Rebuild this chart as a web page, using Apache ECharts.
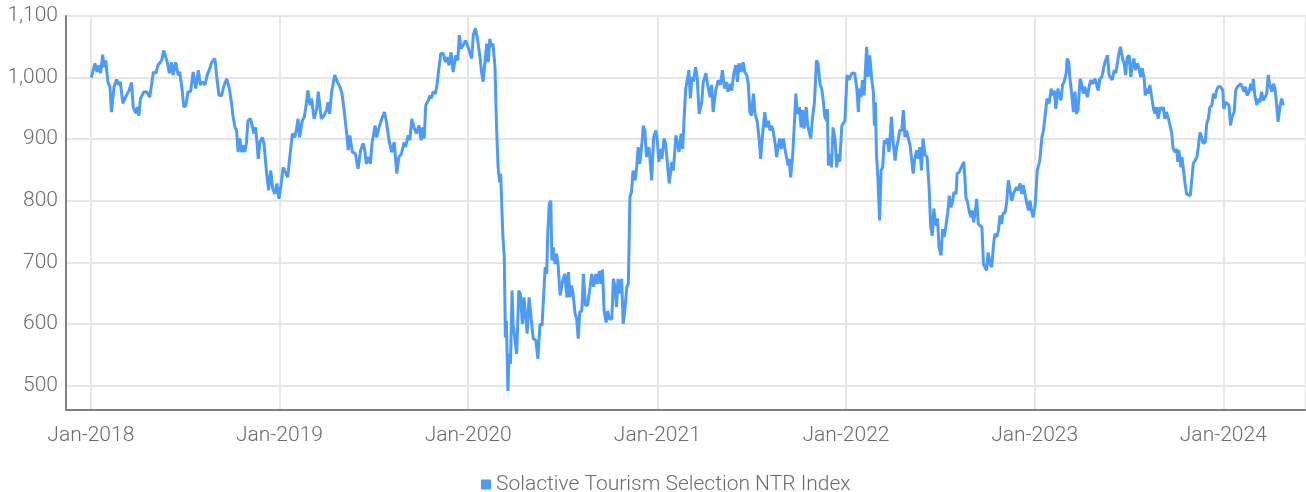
<!DOCTYPE html>
<html>
<head>
<meta charset="utf-8">
<script src="https://cdn.jsdelivr.net/npm/echarts@6/dist/echarts.min.js"></script>
<style>
  html, body { margin: 0; padding: 0; background: #ffffff; }
  #chart { width: 1306px; height: 492px; }
</style>
</head>
<body>
<div id="chart"></div>
<script>
// Index level history, Jan 2018 – Apr 2024
const seriesName = 'Solactive Tourism Selection NTR Index';
const startYear = 2018;
const monthNames = ['Jan','Feb','Mar','Apr','May','Jun','Jul','Aug','Sep','Oct','Nov','Dec'];

// Days elapsed since 1 Jan 2018 for each observation
const days = [
  1,8,12,16,19,23,26,29,33,37,
  40,45,50,54,57,62,69,74,79,82,
  87,90,93,96,103,108,114,121,126,130,
  137,141,145,148,152,156,159,164,169,172,
  176,180,184,188,193,198,203,208,212,216,
  221,225,229,234,240,244,248,253,257,263,
  268,272,275,279,282,285,288,292,295,298,
  301,304,309,313,315,319,324,327,332,335,
  340,344,348,352,356,360,364,368,372,375,
  381,385,390,395,398,401,404,409,413,416,
  420,424,427,432,437,440,443,446,451,456,
  459,462,466,472,477,482,486,490,495,498,
  501,506,512,517,522,527,530,533,537,541,
  544,550,553,557,563,568,572,577,582,587,
  592,596,601,606,609,614,617,621,626,630,
  635,639,642,645,648,653,656,659,662,667,
  670,673,677,682,686,689,693,697,701,706,
  710,713,716,720,725,729,733,737,740,744,
  748,753,756,759,762,766,769,772,775,778,
  782,785,788,791,793,797,800,802,804,807,
  809,812,815,817,820,824,828,831,835,838,
  842,844,848,853,856,861,865,869,873,877,
  879,882,884,887,890,892,895,898,901,904,
  908,913,917,921,924,927,930,933,937,940,
  943,946,950,953,957,961,966,969,973,977,
  980,984,987,990,993,997,1000,1003,1008,1011,
  1014,1017,1020,1024,1027,1030,1033,1037,1040,1043,
  1046,1049,1053,1056,1059,1062,1066,1069,1072,1075,
  1080,
  1085,1089,1093,1096,1099,1102,1105,1109,1112,1115,
  1119,1124,1127,1132,1134,1138,1142,1145,1148,1151,
  1154,1157,1160,1163,1166,1170,1173,1177,1182,1185,
  1190,1193,1198,1201,1204,1209,1214,1218,1222,1226,
  1230,1233,1236,1240,1244,1248,1251,1254,1258,1262,
  1265,1269,1272,1275,1278,1282,1285,1289,1293,1296,
  1300,1304,1307,1311,1314,1317,1320,1324,1327,1330,
  1333,1336,1340,1343,1346,1349,1351,1354,1358,1361,
  1364,1367,1371,1374,1377,1380,1384,1387,1390,1393,
  1396,1400,1404,1407,1411,1414,1417,1420,1424,1425,
  1427,1430,1433,1436,1440,1443,1446,1449,1453,1459,
  1463,1467,1472,1475,1478,1482,1485,
  1487,1490,1493,1496,1501,1504,1507,1511,1514,1516,
  1518,1520,1523,1526,1529,1532,1535,1538,1541,1544,
  1546,1549,1552,1556,1559,1562,1565,1569,1572,1575,
  1578,1581,1585,1588,1591,1594,1598,1601,1604,1607,
  1610,1614,1618,1622,1625,1628,1631,1634,1638,1641,
  1645,1648,1651,1654,1658,1661,1664,1667,1670,1674,
  1676,1680,1683,1686,1689,1691,1693,1696,1700,1703,
  1705,1708,1711,1714,1717,1720,1724,1727,1730,1733,
  1736,1740,1743,1746,1749,1753,1756,1759,1762,1765,
  1769,1772,1775,1778,1782,1785,1788,1791,1794,1798,
  1801,1804,1807,1811,1814,1817,1820,1823,1827,
  1831,1836,1840,1843,1846,1850,1854,1858,1861,1864,
  1867,1871,1874,1877,1880,1883,1887,1889,1892,1894,
  1898,1901,1904,1907,1910,1914,1917,1920,1923,1928,
  1932,1935,1938,1943,1946,1949,1952,1956,1959,1962,
  1967,1970,1973,1976,1980,1983,1986,1989,1992,1996,
  1999,2002,2005,2009,2012,2015,2018,2021,2025,2028,
  2031,2034,2038,2040,2043,2046,2049,2052,2056,2059,
  2062,2065,2069,2072,2075,2078,2081,2085,2088,2091,
  2094,2098,2101,2103,2105,2109,2111,2114,2117,2120,
  2123,2127,2130,2133,2136,2140,2143,2146,2149,2152,
  2156,2159,2162,2165,2169,2172,2175,2178,2181,2186,
  2190,2192,2196,2199,2202,2205,2208,2212,2215,2218,
  2221,2225,2228,2231,2234,2237,2241,2244,2247,2249,
  2252,2256,2259,2262,2265,2268,2272,2275,2278,2281,
  2285,2288,2291,2294,2297,2301,2304,2307
];

// Index level at each observation
const levels = [
  1000,1023,1009,1020,1007,1037,1017,1028,993,985,
  944,985,997,988,993,958,971,979,992,952,
  942,952,938,966,977,977,968,1009,1007,1020,
  1028,1044,1033,1025,1007,1025,1004,1025,1004,1009,
  985,952,955,977,977,1009,982,1012,988,993,
  988,1004,1012,1025,1031,998,971,971,985,998,
  982,960,938,919,914,879,901,879,890,879,
  893,930,933,919,909,919,868,895,903,893,
  846,817,849,819,811,828,803,825,854,849,
  838,871,909,903,917,933,903,930,936,952,
  979,955,966,933,949,977,977,933,938,947,
  960,941,977,1004,993,985,974,947,909,882,
  906,879,876,852,882,893,882,860,871,860,
  893,922,903,917,933,944,928,898,879,895,
  844,871,876,895,887,906,898,933,917,909,
  922,898,919,901,955,963,971,966,977,974,
  990,1012,1039,1039,1025,1033,1020,1041,1009,1036,
  1028,1069,1047,1052,1060,1052,1041,1031,1069,1080,
  1063,1033,1009,993,1020,1055,1025,1063,1050,1055,
  1017,919,854,830,844,746,708,578,605,491,
  551,535,654,600,597,551,654,649,600,643,
  605,584,643,600,576,573,543,600,597,660,
  692,681,746,795,800,703,724,697,714,697,
  646,670,681,643,684,643,662,649,616,608,
  576,619,621,681,630,630,660,681,660,681,
  665,686,665,688,621,602,621,608,608,673,
  660,627,673,649,673,600,621,660,665,806,
  814,849,833,854,887,860,890,922,914,871,
  887,
  833,903,914,898,863,884,868,901,893,895,
  828,863,849,906,909,879,909,884,936,982,
  985,1012,966,1001,993,1017,1001,941,960,993,
  1007,990,968,988,944,979,996,988,1012,982,
  993,977,990,979,1007,1020,993,1023,1009,1025,
  1009,1004,990,944,938,974,941,930,901,868,
  911,944,919,930,914,922,914,893,871,890,
  901,884,901,884,882,857,868,838,876,922,
  974,941,952,919,947,917,952,922,911,901,
  933,960,1028,1023,988,982,963,936,930,949,
  857,876,854,919,898,854,876,863,922,930,
  1004,996,1007,1010,1007,982,944,
  982,968,996,971,1050,1001,1036,996,977,922,
  960,876,833,768,849,854,898,893,901,879,
  898,936,898,865,887,898,914,914,947,903,
  914,917,890,868,844,868,882,868,887,849,
  901,874,871,817,757,743,787,760,771,724,
  711,754,741,757,781,808,789,798,814,811,
  844,846,852,849,863,838,806,798,781,773,
  784,765,781,803,762,765,757,697,695,687,
  716,697,692,724,746,741,752,776,762,779,
  781,798,833,830,800,811,817,822,817,828,
  811,825,828,795,784,800,784,773,792,
  849,865,903,914,936,966,958,982,971,979,
  949,982,971,963,988,993,1007,1031,1025,1001,
  971,944,977,941,947,998,990,974,985,968,
  988,996,990,998,988,979,998,1001,998,1025,
  1036,1004,1007,996,1012,1007,1023,1039,1050,1031,
  1023,1004,1033,1036,1001,1020,1031,1012,1023,1015,
  1001,1015,998,971,982,974,988,971,949,941,
  952,933,952,947,952,933,944,933,922,911,
  884,879,884,863,882,854,871,849,828,811,
  814,808,811,860,863,871,890,911,903,893,
  895,925,933,952,955,974,966,979,985,985,
  979,949,960,963,955,922,936,944,979,985,
  982,990,988,977,985,971,977,990,979,998,
  971,955,966,960,977,963,968,974,1004,988,
  977,990,982,958,928,955,966,955
];

// Visible time window and value range
const xWindow = [Date.UTC(2017, 10, 14), Date.UTC(2024, 5, 9)];
const yRange = [460, 1100];

const DAY = 86400000;
const lineColor = '#4d9bf8';
const labelColor = '#6b6b6b';
const fontFamily = 'Roboto, "Noto Sans", sans-serif';
const fontSize = 21;

const seriesData = days.map((d, i) => [Date.UTC(startYear, 0, 1 + d), levels[i]]);

const chart = echarts.init(document.getElementById('chart'), null, { renderer: 'canvas' });

chart.setOption({
  useUTC: true,
  animation: false,
  backgroundColor: '#ffffff',
  textStyle: { fontFamily: fontFamily },
  grid: { left: 66, right: 0, top: 16, bottom: 82, containLabel: false },
  legend: {
    data: [seriesName],
    top: 469,
    left: 476,
    icon: 'rect',
    itemWidth: 10,
    itemHeight: 10,
    itemGap: 10,
    textStyle: { color: labelColor, fontSize: fontSize, fontWeight: 300, fontFamily: fontFamily }
  },
  xAxis: {
    type: 'time',
    min: xWindow[0],
    max: xWindow[1],
    minInterval: 365 * DAY,
    maxInterval: 366 * DAY,
    axisLine: { show: true, lineStyle: { color: '#808080', width: 2 } },
    axisTick: { show: false },
    splitLine: { show: true, lineStyle: { color: '#e6e6e6', width: 2 } },
    axisLabel: {
      color: labelColor,
      fontSize: fontSize,
      fontWeight: 300,
      fontFamily: fontFamily,
      margin: 15,
      showMinLabel: false,
      showMaxLabel: false,
      formatter: function (v) {
        const d = new Date(v);
        return monthNames[d.getUTCMonth()] + '-' + d.getUTCFullYear();
      }
    }
  },
  yAxis: {
    type: 'value',
    min: yRange[0],
    max: yRange[1],
    minInterval: 100,
    maxInterval: 100,
    axisLine: { show: true, lineStyle: { color: '#808080', width: 2 } },
    axisTick: { show: false },
    splitLine: { show: true, lineStyle: { color: '#e6e6e6', width: 2 } },
    axisLabel: {
      color: labelColor,
      fontSize: fontSize,
      fontWeight: 300,
      fontFamily: fontFamily,
      margin: 8,
      showMinLabel: false,
      formatter: function (v) { return v.toLocaleString('en-US'); }
    }
  },
  series: [{
    name: seriesName,
    type: 'line',
    data: seriesData,
    showSymbol: false,
    symbol: 'none',
    lineStyle: { color: lineColor, width: 3 },
    itemStyle: { color: lineColor }
  }]
});
</script>
</body>
</html>
